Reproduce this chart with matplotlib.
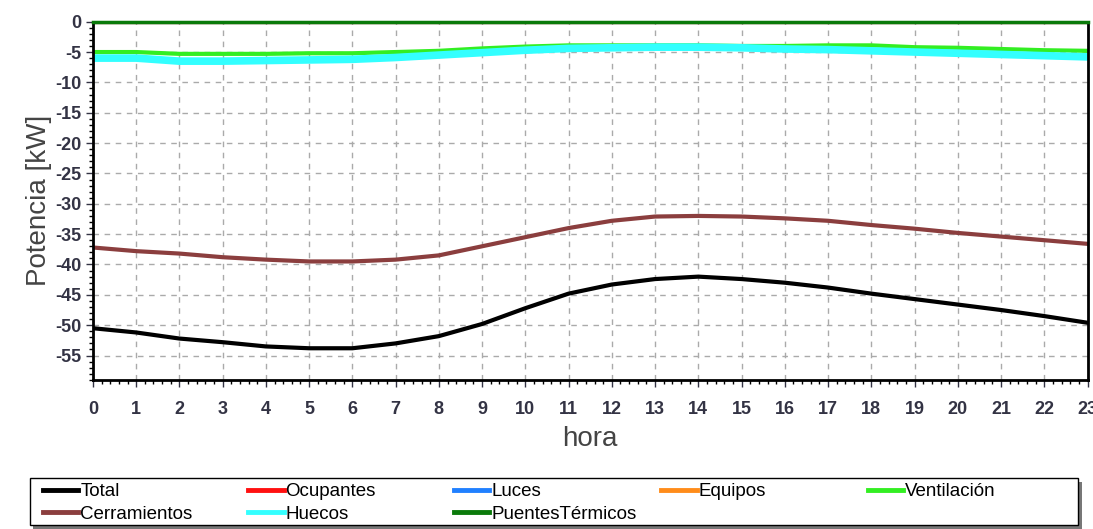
import matplotlib
matplotlib.use("Agg")
import matplotlib.pyplot as plt
from matplotlib.lines import Line2D
from matplotlib.patches import Rectangle
from matplotlib.ticker import MultipleLocator

plt.rcParams['font.family'] = ['Liberation Sans', 'DejaVu Sans']
plt.rcParams['axes.unicode_minus'] = False

# hourly thermal loads [kW]
hora = list(range(24))
total = [-50.5, -51.2, -52.2, -52.8, -53.5, -53.8, -53.8, -53.0, -51.8, -49.8, -47.2, -44.8,
         -43.3, -42.4, -42.0, -42.4, -43.0, -43.8, -44.8, -45.7, -46.6, -47.5, -48.5, -49.6]
cerramientos = [-37.2, -37.8, -38.2, -38.8, -39.2, -39.5, -39.5, -39.2, -38.5, -37.0, -35.5, -34.0,
                -32.8, -32.1, -32.0, -32.1, -32.4, -32.8, -33.5, -34.1, -34.8, -35.4, -36.0, -36.6]
ventilacion = [-5.0, -5.0, -5.3, -5.3, -5.3, -5.2, -5.2, -5.0, -4.8, -4.4, -4.1, -3.9,
               -3.9, -3.9, -3.9, -4.0, -4.0, -3.9, -3.9, -4.2, -4.3, -4.5, -4.7, -4.8]
huecos = [-6.0, -6.0, -6.5, -6.5, -6.4, -6.3, -6.2, -5.9, -5.5, -5.1, -4.7, -4.4,
          -4.3, -4.2, -4.2, -4.3, -4.5, -4.6, -4.8, -5.0, -5.2, -5.4, -5.6, -5.8]
ocupantes = [0.0] * 24
luces = [0.0] * 24
equipos = [0.0] * 24
puentes = [0.0] * 24

colors = {"Total": "black", "Ocupantes": "#ff1010", "Luces": "#2080ff",
          "Equipos": "#ff8c1a", "Ventilación": "#33ee22", "Cerramientos": "#8b3e3e",
          "Huecos": "#33ffff", "PuentesTérmicos": "#0a7a0a"}

fig = plt.figure(figsize=(10.93, 5.29), dpi=100)
ax = fig.add_axes([0.085, 0.282, 0.91, 0.677])

ax.plot(hora, ocupantes, color=colors["Ocupantes"], lw=3)
ax.plot(hora, luces, color=colors["Luces"], lw=3)
ax.plot(hora, equipos, color=colors["Equipos"], lw=3)
ax.plot(hora, ventilacion, color=colors["Ventilación"], lw=3)
ax.plot(hora, huecos, color=colors["Huecos"], lw=5.5)
ax.plot(hora, cerramientos, color=colors["Cerramientos"], lw=3)
ax.plot(hora, total, color=colors["Total"], lw=3)
ax.plot(hora, puentes, color=colors["PuentesTérmicos"], lw=2.5, zorder=3, clip_on=False)

ax.set_xlim(0, 23)
ax.set_ylim(-59, 0)
ax.xaxis.set_major_locator(MultipleLocator(1))
ax.xaxis.set_minor_locator(MultipleLocator(0.2))
ax.yaxis.set_major_locator(MultipleLocator(5))
ax.yaxis.set_minor_locator(MultipleLocator(1))
ax.grid(True, which="major", color="#aaaaaa", ls=(0, (4, 4)), lw=1)
ax.tick_params(which="major", length=5, width=1, labelsize=13, colors="#333344")
ax.tick_params(which="minor", length=3, width=1)
ax.tick_params(axis="x", pad=10)
for lbl in ax.get_xticklabels() + ax.get_yticklabels():
    lbl.set_fontweight("bold")
for s in ax.spines.values():
    s.set_linewidth(2)

ax.set_xlabel("hora", fontsize=20, color="#444444", labelpad=6)
ax.set_ylabel("Potencia [kW]", fontsize=20, color="#444444", labelpad=2)

# legend: five evenly spaced columns inside one framed box
columns = [["Total", "Cerramientos"], ["Ocupantes", "Huecos"],
           ["Luces", "PuentesTérmicos"], ["Equipos"], ["Ventilación"]]
col_x = [0.039, 0.227, 0.415, 0.605, 0.794]
box = (0.0275, 0.008, 0.959, 0.088)
fig.patches.append(Rectangle((box[0] + 0.003, box[1] - 0.008), box[2], box[3],
                             transform=fig.transFigure, facecolor="#777777",
                             edgecolor="none", zorder=0))
fig.patches.append(Rectangle((box[0], box[1]), box[2], box[3],
                             transform=fig.transFigure, facecolor="white",
                             edgecolor="black", lw=1, zorder=1))
for x0, names in zip(col_x, columns):
    handles = [Line2D([], [], color=colors[k], lw=3.5) for k in names]
    leg = fig.legend(handles, names, loc="upper left", bbox_to_anchor=(x0, 0.087),
                     fontsize=13.5, frameon=False, handlelength=1.9,
                     handletextpad=0.1, borderaxespad=0, borderpad=0,
                     labelspacing=0.3)
    leg.set_zorder(2)

fig.savefig("out.png", dpi=100)
